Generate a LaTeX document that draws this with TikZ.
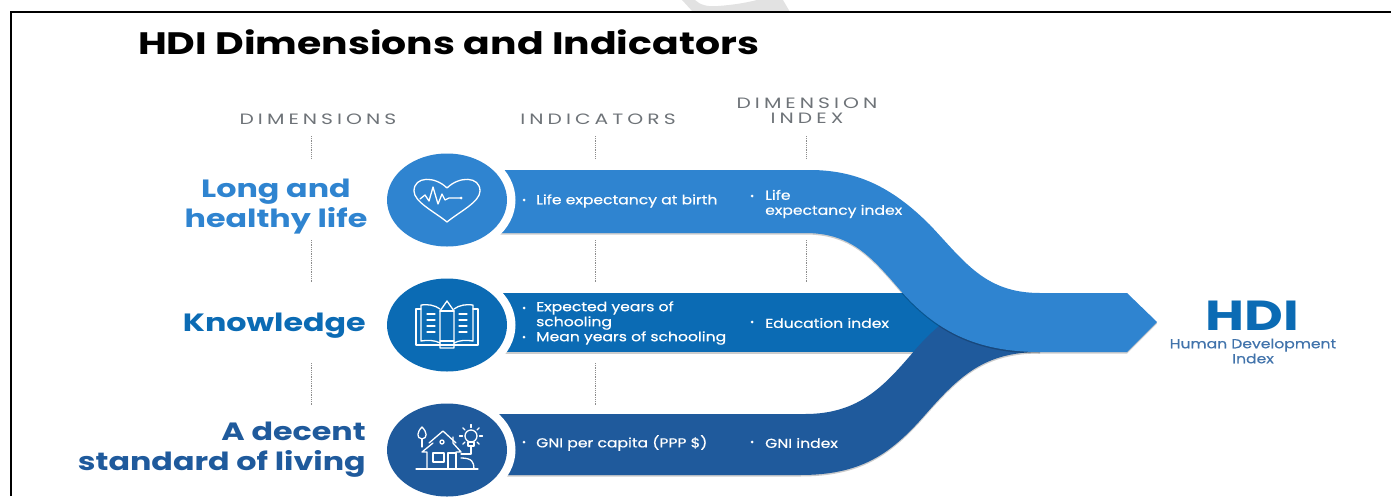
\documentclass[tikz,border=0pt]{standalone}
\usepackage{fontspec}
\usetikzlibrary{shapes.geometric}
\setmainfont[FakeStretch=1.27]{Poppins}
\newfontfamily\hdrfont[FakeStretch=1.35, LetterSpace=27]{Poppins}
\newfontfamily\itemfont[FakeStretch=1.2, FakeBold=0.5]{Poppins}
\definecolor{lifeblue}{HTML}{2F84D0}
\definecolor{edublue}{HTML}{0B6BB4}
\definecolor{gnublue}{HTML}{1F5A9C}
\definecolor{hdrgray}{HTML}{6E7378}
\definecolor{markgray}{HTML}{E2E2E2}
\tikzset{
    hdr/.style={font=\hdrfont\fontsize{15}{16}\selectfont, text=hdrgray, align=center, inner sep=0pt},
    dim/.style={font=\fontsize{25}{30}\selectfont\bfseries, align=center, inner sep=0pt},
    item/.style={font=\itemfont\fontsize{13}{15}\selectfont, text=white, anchor=west, align=left, inner sep=0pt},
    bullet/.style={circle, fill=white, minimum size=3pt, inner sep=0pt},
    ribbon/.style={preaction={fill=black, fill opacity=0.2, transform canvas={yshift=-1.5pt}}},
    ring/.style={ellipse, fill=white, minimum width=137pt, minimum height=110pt, inner sep=0pt},
    disc/.style={ellipse, minimum width=120pt, minimum height=93pt, inner sep=0pt},
    icon/.style={draw=white, line width=1.3pt, line join=round, line cap=round},
    dotline/.style={draw=black!45, densely dotted, line width=0.8pt},
}
\begin{document}
\begin{tikzpicture}[x=1pt, y=-1pt]
    \useasboundingbox (0,0) rectangle (1391,496);

    % grey patch above the frame
    \fill[markgray] (693,12) -- (682,0) -- (695,0)
        .. controls (700,5) and (708,7) .. (718,6)
        .. controls (732,5) and (745,3) .. (757,0)
        -- (783,0) -- (790,12) -- cycle;

    % frame, open at the right and at the bottom
    \draw[line width=2pt] (11,496) -- (11,12) -- (1391,12);

    % title and column heads
    \node[anchor=west, inner sep=0pt, font=\fontsize{31}{36}\selectfont\bfseries] (title) at (138,42) {HDI Dimensions and Indicators};
    \node[hdr] (dimhead) at (318,119) {DIMENSIONS};
    \node[hdr] (indhead) at (598,119) {INDICATORS};
    \node[hdr] (idxhead) at (807,111) {DIMENSION\\[-1pt]INDEX};

    % dotted rules between the rows
    \foreach \x/\name in {311/a,595/b,806/c} {
        \coordinate (\name1) at (\x,136);
        \coordinate (\name2) at (\x,158);
        \coordinate (\name3) at (\x,240);
        \coordinate (\name4) at (\x,283);
        \draw[dotline] (\name1) -- (\name2);
        \draw[dotline] (\name3) -- (\name4);
    }
    \foreach \x/\name in {311/a,595/b} {
        \coordinate (\name5) at (\x,363);
        \coordinate (\name6) at (\x,405);
        \draw[dotline] (\name5) -- (\name6);
    }

    % ribbons, the lowest one first
    \fill[edublue, ribbon] (490,293) -- (960,293) -- (960,352) -- (490,352) -- cycle;
    \fill[gnublue, ribbon] (490,414) -- (805,414)
        .. controls (860,414) and (885,385) .. (915,350)
        .. controls (945,315) and (980,293) .. (1040,293)
        -- (1040,352)
        .. controls (985,352) and (960,375) .. (925,415)
        .. controls (890,455) and (860,475) .. (800,475)
        -- (490,475) -- cycle;
    \fill[lifeblue, ribbon] (490,170) -- (810,170)
        .. controls (860,170) and (895,190) .. (930,225)
        .. controls (965,262) and (985,293) .. (1040,293)
        -- (1127,293) -- (1157,322) -- (1127,352) -- (1040,352)
        .. controls (975,352) and (935,330) .. (900,290)
        .. controls (870,255) and (850,233) .. (805,233)
        -- (490,233) -- cycle;

    % discs with a white ring that cuts into the ribbon
    \foreach \y/\col/\name in {200/lifeblue/life,325/edublue/edu,450/gnublue/gni} {
        \node[ring] (\name ring) at (447,\y) {};
        \node[disc, fill=\col] (\name) at (447,\y) {};
    }

    % heart icon
    \begin{scope}[shift={(447,200)}, icon]
        \draw (0,22) .. controls (-12,12) and (-33,2) .. (-33,-9)
            .. controls (-33,-24) and (-12,-24) .. (0,-12)
            .. controls (12,-24) and (33,-24) .. (33,-9)
            .. controls (33,2) and (12,12) .. (0,22) -- cycle;
        \draw (-27,-1) -- (-22,-5) -- (-18,1) -- (-14,-13) -- (-9,4) -- (-5,-6) -- (-2,0) -- (2,-2) -- (8,-2) -- (14,-2);
        \fill[white] (14,-2) circle (1.5);
    \end{scope}

    % book icon
    \begin{scope}[shift={(447,325)}, icon]
        \draw (-26,-16) -- (-31,-16) -- (-31,20) -- (31,20) -- (31,-16) -- (26,-16);
        \draw (-7,-16) .. controls (-12,-20) and (-20,-21) .. (-26,-20) -- (-26,16) .. controls (-20,15) and (-12,15) .. (-7,18);
        \draw (7,-16) .. controls (12,-20) and (20,-21) .. (26,-20) -- (26,16) .. controls (20,15) and (12,15) .. (7,18);
        \draw (-7,-14) -- (0,-24) -- (7,-14) -- (7,23) -- (-7,23) -- cycle;
        \draw (-7,-14) -- (7,-14);
        \draw (-7,16) -- (7,16);
        \foreach \v in {-11,-5,1,7} {
            \draw (-20,\v) -- (-12,\v);
            \draw (12,\v) -- (20,\v);
        }
    \end{scope}

    % house, tree and lamp icon
    \begin{scope}[shift={(447,450)}, icon]
        \draw (-31,19) -- (31,19);
        \draw (-18,-7) -- (-4,-19) -- (9,-7);
        \draw (-14,-7) -- (-25,2) -- (-20,2) -- (-20,19);
        \draw (6,-13) -- (6,-7) -- (14,2) -- (9,2) -- (9,19);
        \draw (-14,3) rectangle (-3,12);
        \draw (1,3) rectangle (9,19);
        \draw (-5,-8) circle (2);
        \draw (-25,-11) -- (-25,-3);
        \draw (-25,-11) .. controls (-31,-12) and (-30,-18) .. (-25,-23) .. controls (-20,-18) and (-19,-12) .. (-25,-11);
        \draw (24,-14) circle (6);
        \draw (21,-8) -- (27,-8) -- (27,-4) -- (21,-4) -- cycle;
        \draw (24,-4) -- (24,4) -- (14,4);
        \draw (14,8) .. controls (25,8) and (27,12) .. (27,19);
        \foreach \a in {0,45,135,180,225,270,315} {
            \draw (24,-14) ++(\a:8.5) -- ++(\a:3);
        }
    \end{scope}

    % dimension labels
    \node[dim, text=lifeblue] (longlife) at (276,207) {Long and\\healthy life};
    \node[dim, text=edublue, anchor=east] (knowledge) at (366,326) {Knowledge};
    \node[dim, text=gnublue, align=right, anchor=east] (decent) at (366,450) {A decent\\standard of living};

    % bullets and indicator texts
    \foreach \x/\y/\name in {524/200/a,752/196/b,524/308/c,524/337/d,752/322/e,524/442/f,752/442/g} {
        \node[bullet] (bull\name) at (\x,\y) {};
    }
    \node[item] (lifeexp) at (536,201) {Life expectancy at birth};
    \node[item] (lifeidx) at (765,204) {Life\\expectancy index};
    \node[item] (expyears) at (536,323) {Expected years of\\schooling\\Mean years of schooling};
    \node[item] (eduidx) at (765,323) {Education index};
    \node[item] (gnipc) at (536,443) {GNI per capita (PPP \$)};
    \node[item] (gniidx) at (765,443) {GNI index};

    % result
    \node[inner sep=0pt, font=\fontsize{42}{46}\selectfont\bfseries, text=edublue] (hdi) at (1252,316) {HDI};
    \node[inner sep=0pt, align=center, font=\itemfont\fontsize{13}{15}\selectfont, text=gnublue!85] (hdiname) at (1253,351) {Human Development\\Index};
\end{tikzpicture}
\end{document}
